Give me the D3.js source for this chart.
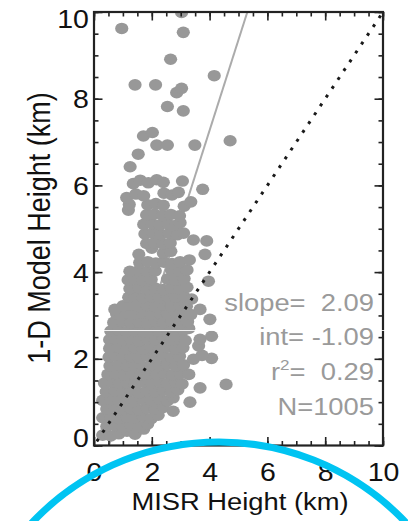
<!DOCTYPE html>
<html>
<head>
<meta charset="utf-8">
<script src="https://cdn.jsdelivr.net/npm/d3@7"></script>
<style>
  body { margin: 0; background: #fff; }
  text { font-family: "Liberation Sans", Arial, sans-serif; }
</style>
</head>
<body>
<svg id="chart"></svg>
<script>
// MISR height (x) vs 1-D model height (y), km
const points = [
  [0.30,0.24],[0.58,0.22],[0.86,0.27],[1.14,0.33],[1.42,0.26],[1.72,0.38],
  [0.44,0.44],[0.72,0.46],[1.00,0.43],[1.28,0.47],[1.56,0.44],[1.86,0.50],
  [0.30,0.64],[0.58,0.66],[0.86,0.62],[1.14,0.65],[1.42,0.63],[1.70,0.67],[1.98,0.62],[2.22,0.70],
  [0.44,0.84],[0.72,0.86],[1.00,0.83],[1.28,0.85],[1.56,0.82],[1.84,0.86],[2.12,0.84],[2.40,0.88],[2.74,0.79],
  [0.30,1.04],[0.58,1.06],[0.86,1.03],[1.14,1.05],[1.42,1.02],[1.70,1.06],[1.98,1.04],[2.26,1.07],[2.54,1.03],[2.74,1.10],[3.32,1.00],
  [0.42,1.24],[0.72,1.26],[1.00,1.23],[1.28,1.25],[1.56,1.22],[1.84,1.26],[2.12,1.24],[2.40,1.27],[2.68,1.23],[2.90,1.28],
  [0.36,1.44],[0.62,1.46],[0.88,1.43],[1.14,1.45],[1.42,1.42],[1.70,1.46],[1.98,1.44],[2.26,1.47],[2.54,1.43],[2.82,1.46],[3.05,1.42],[3.67,1.33],[4.57,1.41],
  [0.48,1.64],[0.76,1.66],[1.04,1.63],[1.32,1.65],[1.60,1.62],[1.88,1.66],[2.16,1.64],[2.44,1.67],[2.72,1.63],[3.00,1.66],[3.28,1.64],
  [0.55,1.84],[0.86,1.86],[1.14,1.83],[1.42,1.85],[1.70,1.82],[1.98,1.86],[2.26,1.84],[2.54,1.87],[2.82,1.83],[3.10,1.86],[3.44,1.99],[4.07,2.01],
  [0.52,2.04],[0.74,2.06],[1.00,2.03],[1.28,2.05],[1.56,2.02],[1.84,2.06],[2.12,2.04],[2.40,2.07],[2.68,2.03],[2.96,2.06],[3.74,2.08],
  [0.54,2.24],[0.86,2.26],[1.14,2.23],[1.42,2.25],[1.70,2.22],[1.98,2.26],[2.26,2.24],[2.54,2.27],[2.82,2.23],[3.08,2.26],[3.62,2.30],
  [0.54,2.44],[0.74,2.46],[1.00,2.43],[1.28,2.45],[1.56,2.42],[1.84,2.46],[2.12,2.44],[2.40,2.47],[2.68,2.43],[2.96,2.46],[3.16,2.42],[3.67,2.45],[4.07,2.52],
  [0.58,2.64],[0.86,2.66],[1.14,2.63],[1.42,2.65],[1.70,2.62],[1.98,2.66],[2.26,2.64],[2.54,2.67],[2.82,2.63],[3.10,2.66],[3.28,2.70],
  [0.68,2.84],[1.00,2.86],[1.28,2.83],[1.56,2.85],[1.84,2.82],[2.12,2.86],[2.40,2.84],[2.68,2.87],[2.96,2.83],[3.24,2.86],[4.01,2.91],
  [0.78,3.04],[1.14,3.06],[1.42,3.03],[1.70,3.05],[1.98,3.02],[2.26,3.06],[2.54,3.04],[2.82,3.07],[3.10,3.03],[3.35,3.02],
  [0.72,3.14],[1.00,3.22],[1.28,3.24],[1.56,3.21],[1.84,3.23],[2.12,3.20],[2.40,3.24],[2.68,3.22],[2.96,3.25],[3.20,3.21],[3.67,3.14],
  [1.20,3.42],[1.42,3.44],[1.70,3.41],[1.98,3.43],[2.26,3.40],[2.54,3.44],[2.82,3.42],[3.10,3.45],[3.38,3.38],
  [1.24,3.62],[1.56,3.64],[1.84,3.61],[2.12,3.63],[2.40,3.60],[2.68,3.64],[2.96,3.62],[3.22,3.65],
  [1.18,3.82],[1.42,3.84],[1.70,3.81],[1.98,3.83],[2.54,3.84],[2.82,3.82],[3.12,3.85],[3.96,3.79],
  [1.24,4.02],[1.56,4.04],[1.84,4.01],[2.12,4.03],[2.68,4.04],[2.96,4.02],[3.22,4.05],
  [1.58,4.22],[1.86,4.24],[2.14,4.21],[2.42,4.23],[2.70,4.20],[2.98,4.24],[3.30,4.28],
  [1.55,4.41],[2.00,4.55],[2.40,4.44],[2.66,4.48],[3.84,4.41],
  [1.82,4.66],[2.10,4.68],[2.38,4.65],[2.64,4.67],[3.44,4.74],[3.90,4.72],
  [1.76,4.88],[2.04,4.90],[2.32,4.87],[2.60,4.89],[2.88,4.86],[3.10,4.90],
  [1.72,5.10],[2.00,5.12],[2.28,5.09],[2.56,5.11],[2.84,5.08],[2.98,5.14],
  [1.19,5.43],[1.82,5.32],[2.10,5.34],[2.38,5.31],[2.66,5.33],[2.96,5.30],
  [1.22,5.56],[1.86,5.55],[2.14,5.58],[2.40,5.54],[3.12,5.52],[3.35,5.62],
  [1.13,5.72],[1.45,5.80],[1.72,5.76],[2.42,5.82],[2.70,5.78],[2.92,5.84],[3.76,5.91],
  [1.36,6.04],[1.60,6.12],[1.88,6.06],[2.17,6.13],[2.40,6.07],[3.06,6.10],
  [1.25,6.43],[1.53,6.72],[1.71,7.14],[2.02,7.22],[2.17,6.93],[2.54,6.93],[3.49,6.93],[4.71,7.03],
  [2.54,7.82],[3.09,7.72],[1.42,8.32],[2.13,8.32],[2.86,8.14],[3.03,8.24],[2.65,8.91],[4.16,8.53],
  [0.96,9.62],[3.09,9.53],[3.03,9.99]
];

const fitSlope = 2.09;
const fitIntercept = -1.09;
const oneToOne = [0, 10];
const statLines = [
  { label: "slope=  ", value: "2.09" },
  { label: "int= ", value: "-1.09" },
  { label: "r", sup: "2", rest: "=  ", value: "0.29" },
  { label: "N=", value: "1005" }
];
const majorTicks = [0, 2, 4, 6, 8, 10];
const minorTicks = d3.range(0, 10.01, 0.5);

const W = 408, H = 521;
const margin = { top: 12, left: 94 };
const width = 289, height = 433.5;
const sx = 1.14; // picture is a bit wider than tall

const svg = d3.select("#chart").attr("width", W).attr("height", H);

const x = d3.scaleLinear().domain([0, 10]).range([0, width]);
const y = d3.scaleLinear().domain([0, 10]).range([height, 0]);

const g = svg.append("g").attr("transform", `translate(${margin.left},${margin.top})`);

g.append("clipPath").attr("id", "plotclip")
  .append("rect").attr("width", width).attr("height", height);

const plot = g.append("g").attr("clip-path", "url(#plotclip)");

// regression line (under the points)
const fitX0 = (0 - fitIntercept) / fitSlope;
const fitX1 = (10 - fitIntercept) / fitSlope;
plot.append("line")
  .attr("x1", x(fitX0)).attr("y1", y(0))
  .attr("x2", x(fitX1)).attr("y2", y(10))
  .attr("stroke", "#ababab")
  .attr("stroke-width", 2);

// points
plot.selectAll("ellipse")
  .data(points)
  .join("ellipse")
  .attr("cx", d => x(d[0]))
  .attr("cy", d => y(d[1]))
  .attr("rx", 6.6)
  .attr("ry", 5.8)
  .attr("fill", "#989898");

// 1:1 line
plot.append("line")
  .attr("x1", x(oneToOne[0])).attr("y1", y(oneToOne[0]))
  .attr("x2", x(oneToOne[1])).attr("y2", y(oneToOne[1]))
  .attr("stroke", "#1a1a1a")
  .attr("stroke-width", 3)
  .attr("stroke-dasharray", "3 7.6")
  .attr("stroke-dashoffset", -5);

// axes, ticks pointing inward on all sides
function styleAxis(sel) {
  sel.select(".domain").remove();
  sel.selectAll(".tick line").attr("stroke", "#222").attr("stroke-width", 1.6);
}

g.append("g").attr("transform", `translate(0,${height})`)
  .call(d3.axisBottom(x).tickValues(minorTicks).tickSize(-4.5).tickFormat(""))
  .call(styleAxis);
const xAxis = g.append("g").attr("transform", `translate(0,${height})`)
  .call(d3.axisBottom(x).tickValues(majorTicks).tickSize(-8.5).tickFormat(d3.format("d")))
  .call(styleAxis);
xAxis.selectAll(".tick text")
  .attr("y", 36).attr("dy", 0)
  .attr("transform", `scale(${sx},1)`)
  .attr("font-size", 25)
  .attr("fill", "#111");

g.append("g")
  .call(d3.axisTop(x).tickValues(minorTicks).tickSize(-4.5).tickFormat(""))
  .call(styleAxis);
g.append("g")
  .call(d3.axisTop(x).tickValues(majorTicks).tickSize(-8.5).tickFormat(""))
  .call(styleAxis);

g.append("g")
  .call(d3.axisLeft(y).tickValues(minorTicks).tickSize(-4.5).tickFormat(""))
  .call(styleAxis);
const yAxis = g.append("g")
  .call(d3.axisLeft(y).tickValues(majorTicks).tickSize(-8.5).tickFormat(d3.format("d")))
  .call(styleAxis);
yAxis.selectAll(".tick text")
  .attr("x", -4.5)
  .attr("y", d => d === 0 ? -8 : d === 10 ? 6.5 : 0)
  .attr("dy", "0.36em")
  .attr("transform", `scale(${sx},1)`)
  .attr("font-size", 25)
  .attr("fill", "#111");

g.append("g").attr("transform", `translate(${width},0)`)
  .call(d3.axisRight(y).tickValues(minorTicks).tickSize(-4.5).tickFormat(""))
  .call(styleAxis);
g.append("g").attr("transform", `translate(${width},0)`)
  .call(d3.axisRight(y).tickValues(majorTicks).tickSize(-8.5).tickFormat(""))
  .call(styleAxis);

// frame
g.append("rect")
  .attr("width", width).attr("height", height)
  .attr("fill", "none")
  .attr("stroke", "#222")
  .attr("stroke-width", 2.2);

// thin white scan line crossing the picture
svg.append("line")
  .attr("x1", 100).attr("x2", W)
  .attr("y1", 330.5).attr("y2", 330.5)
  .attr("stroke", "#fff")
  .attr("stroke-width", 1)
  .attr("opacity", 0.85);

// stats block
const stats = svg.append("g");
statLines.forEach((s, i) => {
  const t = stats.append("text")
    .attr("transform", `translate(374,${310.5 + i * 34.8}) scale(${sx},1)`)
    .attr("text-anchor", "end")
    .attr("font-size", 24)
    .attr("fill", "#9a9a9a")
    .style("white-space", "pre");
  t.append("tspan").text(s.label);
  if (s.sup) {
    t.append("tspan").attr("font-size", 15).attr("dy", -10).text(s.sup);
    t.append("tspan").attr("dy", 10).text(s.rest);
  }
  t.append("tspan").text(s.value);
});

// axis titles
svg.append("text")
  .attr("transform", `translate(240,510) scale(${sx},1)`)
  .attr("text-anchor", "middle")
  .attr("font-size", 24)
  .attr("fill", "#111")
  .text("MISR Height (km)");

svg.append("text")
  .attr("transform", `translate(50,228) scale(${sx},1) rotate(-90)`)
  .attr("text-anchor", "middle")
  .attr("font-size", 27)
  .attr("fill", "#111")
  .text("1-D Model Height (km)");

// cyan arc drawn over the bottom of the picture
svg.append("circle")
  .attr("cx", 219).attr("cy", 699).attr("r", 257)
  .attr("fill", "none")
  .attr("stroke", "#00c4f2")
  .attr("stroke-width", 7);
</script>
</body>
</html>
